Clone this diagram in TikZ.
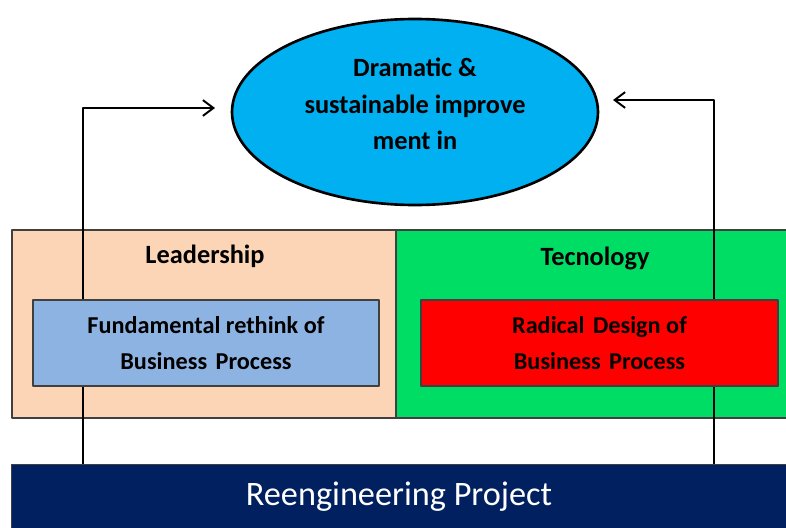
\documentclass[tikz,border=0pt]{standalone}
\usepackage{fontspec}
\setmainfont{Carlito}
\usetikzlibrary{shapes.geometric,arrows.meta}
\definecolor{peach}{RGB}{251,213,181}
\definecolor{techgreen}{RGB}{0,221,100}
\definecolor{boxblue}{RGB}{141,179,226}
\definecolor{sky}{RGB}{0,176,240}
\definecolor{navy}{RGB}{0,32,96}
\newcommand{\px}{0.02cm}
\newcommand{\gap}{\hspace{0.35em}}
\begin{document}
\begin{tikzpicture}[x=0.02cm, y=-0.02cm, line join=round, >={Straight Barb[length=6pt,width=9pt]},
		panel/.style={draw=black!75, line width=0.7pt, inner sep=0pt},
		txt/.style={font=\bfseries\fontsize{15}{20.8}\selectfont, align=center},
		boxtxt/.style={font=\bfseries\fontsize{13.8}{20.4}\selectfont, align=center},
		link/.style={->, line width=1.1pt}]
		\useasboundingbox (0,0) rectangle (786,527);
		% two areas
		\node[panel, fill=peach, minimum width=384*\px, minimum height=188*\px] (lead) at (204,324) {};
		\node[panel, fill=techgreen, minimum width=392*\px, minimum height=188*\px] (tech) at (592,324) {};
		\node[txt] (leadT) at (205,256) {Leadership};
		\node[txt] (techT) at (595,258) {Tecnology};
		% feedback lines
		\path (83,465) coordinate (footL)
		(215,108) coordinate (goalL)
		(714,465) coordinate (footR)
		(613,100) coordinate (goalR);
		\draw[link] (footL) |- (goalL);
		\draw[link] (footR) |- (goalR);
		% boxes
		\node[panel, boxtxt, fill=boxblue, minimum width=346*\px, minimum height=86*\px] (rethink) at (206,343) {Fundamental rethink of\\Business\gap Process};
		\node[panel, boxtxt, fill=red, minimum width=357*\px, minimum height=86*\px] (radical) at (599.5,343) {Radical\gap Design of\\Business\gap Process};
		\node[ellipse, draw, line width=1.5pt, fill=sky, minimum width=366*\px, minimum height=186*\px] (goal) at (415,112) {};
		\node[txt] (goalT) at (415,104) {Dramatic \&\\sustainable improve\\ment in};
		\node[fill=navy, draw=black!75, inner sep=0pt, minimum width=776*\px, minimum height=66*\px, text=white, font=\fontsize{19.5}{22}\selectfont] (proj) at (399,497) {Reengineering Project};
\end{tikzpicture}
\end{document}
